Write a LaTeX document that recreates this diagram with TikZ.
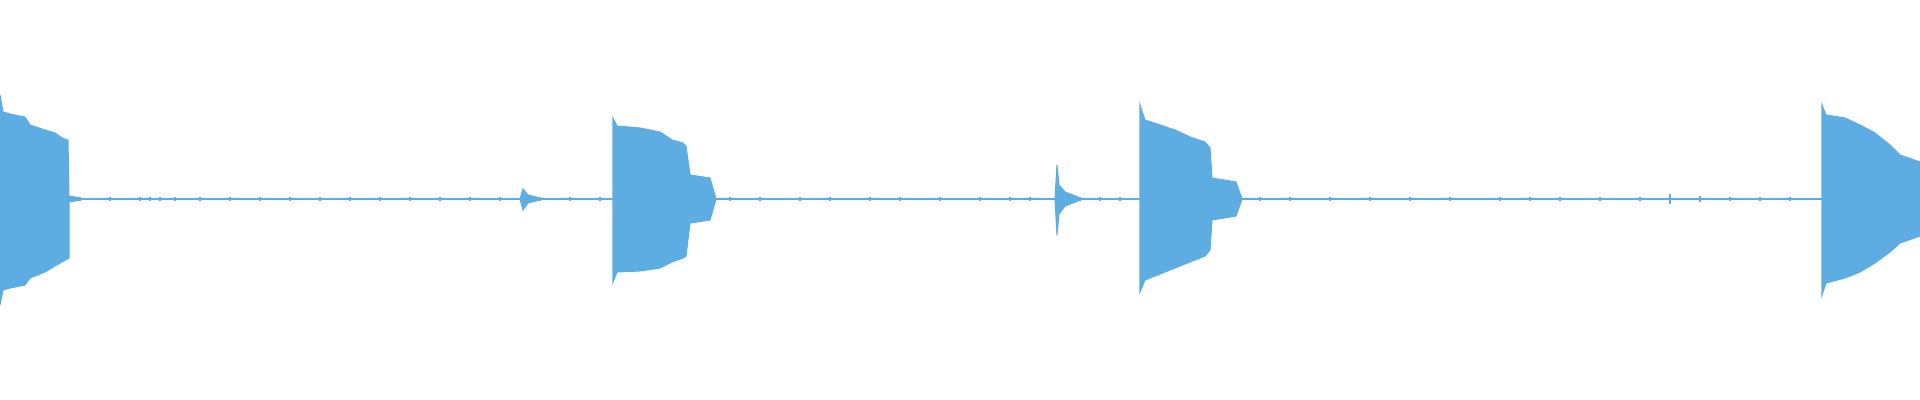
\documentclass[tikz,border=0pt]{standalone}
\begin{document}
\begin{tikzpicture}[x=0.01cm,y=-0.01cm]
    \definecolor{wave}{HTML}{5DADE2}
    \tikzset{burst/.style={fill=wave,draw=wave,line width=0.3pt}}
    \useasboundingbox (0,0) rectangle (1920,400);

    % Grundlinie
    \draw[wave,line width=0.8pt] (0,199) -- (1920,199);

    % Rauschen
    \foreach \x in {80,110,140,150,160,175,200,230,260,290,320,350,380,410,440,470,500,540,570,600,
                    730,760,800,830,870,900,940,980,1010,1030,1080,1100,1120,
                    1260,1290,1330,1370,1410,1450,1500,1530,1560,1600,1640,1670,1700,1730,1760,1790}
        \draw[wave,line width=0.4pt] (\x,197) -- (\x,201);
    \draw[wave,line width=0.5pt] (1670,194) -- (1670,204);
    \draw[wave,line width=0.5pt] (1700,196) -- (1700,202);

    % Burst 1
    \draw[burst] (0,95) -- (3,112) -- (10,114) -- (25,117) -- (30,125) -- (45,130) -- (55,133) -- (62,138) -- (68,140)
        -- (69,199) -- (69,258) -- (62,262) -- (55,266) -- (45,272) -- (30,278) -- (25,285) -- (10,288) -- (3,290) -- (0,305) -- cycle;
    \draw[burst] (69,196) -- (80,198) -- (80,200) -- (69,202) -- cycle;

    % Blip 1
    \draw[burst] (520,199) -- (523,189) -- (528,195) -- (540,198) -- (540,200) -- (528,203) -- (523,210) -- cycle;

    % Burst 2
    \draw[burst] (613,118) -- (617,126) -- (640,128) -- (660,132) -- (672,140) -- (683,143) -- (686,146) -- (690,175)
        -- (710,178) -- (716,199) -- (710,220) -- (690,223) -- (686,256) -- (683,258) -- (672,262) -- (660,268)
        -- (640,271) -- (617,272) -- (613,282) -- cycle;

    % Blip 2
    \draw[burst] (1055,199) -- (1057,165) -- (1059,185) -- (1065,192) -- (1078,197) -- (1078,201) -- (1065,206) -- (1059,214) -- (1057,235) -- cycle;

    % Burst 3
    \draw[burst] (1140,105) -- (1145,120) -- (1160,125) -- (1175,130) -- (1190,137) -- (1205,142) -- (1210,148) -- (1212,178)
        -- (1236,182) -- (1242,199) -- (1236,216) -- (1212,220) -- (1210,250) -- (1205,256) -- (1190,262) -- (1175,268)
        -- (1160,274) -- (1145,280) -- (1140,292) -- cycle;

    % Burst 4
    \draw[burst] (1822,105) -- (1826,115) -- (1845,118) -- (1860,125) -- (1875,133) -- (1890,145) -- (1900,155) -- (1920,162)
        -- (1920,236) -- (1900,243) -- (1890,252) -- (1875,263) -- (1860,272) -- (1845,278) -- (1826,283) -- (1822,295) -- cycle;
\end{tikzpicture}
\end{document}
